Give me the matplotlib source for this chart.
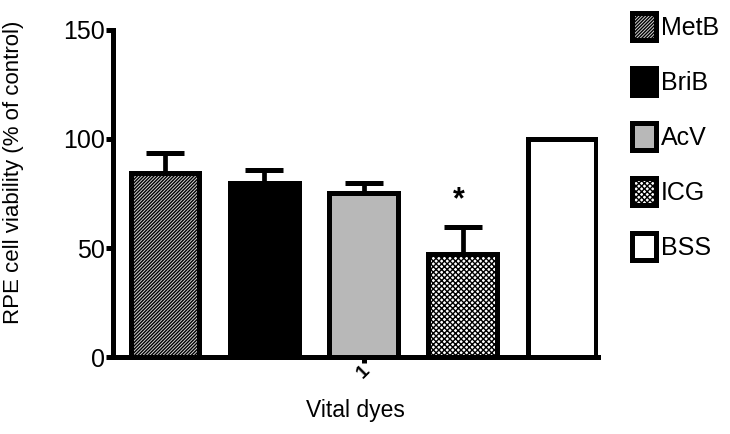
import matplotlib
matplotlib.use("Agg")
import matplotlib.pyplot as plt
from matplotlib.patches import Patch

categories = ["MetB", "BriB", "AcV", "ICG", "BSS"]
values = [84.4, 79.8, 75.2, 47.2, 100.0]
errors = [9.2, 6.0, 4.6, 12.4, 0.0]
facecolors = ["#d4d4d4", "black", "#b8b8b8", "white", "white"]
hatches = ["/" * 10, None, None, "x" * 6, None]
y_ticks = [0, 50, 100, 150]

plt.rcParams['font.family'] = ['Liberation Sans', 'DejaVu Sans']
plt.rcParams['hatch.linewidth'] = 1.0

fig = plt.figure(figsize=(7.30, 4.34), dpi=100)
ax = fig.add_axes([0.1548, 0.1774, 0.664, 0.7535])

x = list(range(len(categories)))
bars = ax.bar(x, values, width=0.695, color=facecolors, edgecolor="black",
              linewidth=3.6, zorder=3)
for b, h in zip(bars, hatches):
    if h:
        b.set_hatch(h)

for xi, v, e in zip(x, values, errors):
    if e > 0:
        ax.errorbar(xi, v, yerr=[[0], [e]], fmt="none", ecolor="black",
                    elinewidth=3.4, capsize=13.5, capthick=3.6, zorder=2)

ax.text(2.96, values[3] + errors[3] + 5.5, "*", ha="center", va="bottom",
        fontsize=22, fontweight="bold")

ax.set_ylim(0, 150)
ax.set_xlim(-0.524, 4.36)
ax.set_yticks(y_ticks)
ax.set_yticklabels([str(t) for t in y_ticks], fontsize=18)
ax.set_xticks([2])
ax.set_xticklabels(["1"], rotation=45, fontsize=14, fontweight="bold")

for s in ["top", "right"]:
    ax.spines[s].set_visible(False)
for s in ["left", "bottom"]:
    ax.spines[s].set_linewidth(3.6)
ax.tick_params(axis="y", width=3.6, length=5, pad=1)
ax.tick_params(axis="x", width=3.6, length=4, pad=0)

fig.text(0.018, 1 - 172 / 434, "RPE cell viability (% of control)", fontsize=16,
         rotation=90, ha="center", va="center")
fig.text(355 / 730, 1 - 410 / 434, "Vital dyes", fontsize=16.5,
         ha="center", va="center")

handles = [Patch(facecolor=fc, edgecolor="black", linewidth=3.6, hatch=h, label=c)
           for c, fc, h in zip(categories, facecolors, hatches)]
fig.legend(handles=handles, loc="upper left", bbox_to_anchor=(0.838, 1.015),
           frameon=False, fontsize=18, handlelength=0.96, handleheight=1.28,
           labelspacing=1.12, handletextpad=0.2, borderpad=0.3)

fig.savefig("out.png", dpi=100)
